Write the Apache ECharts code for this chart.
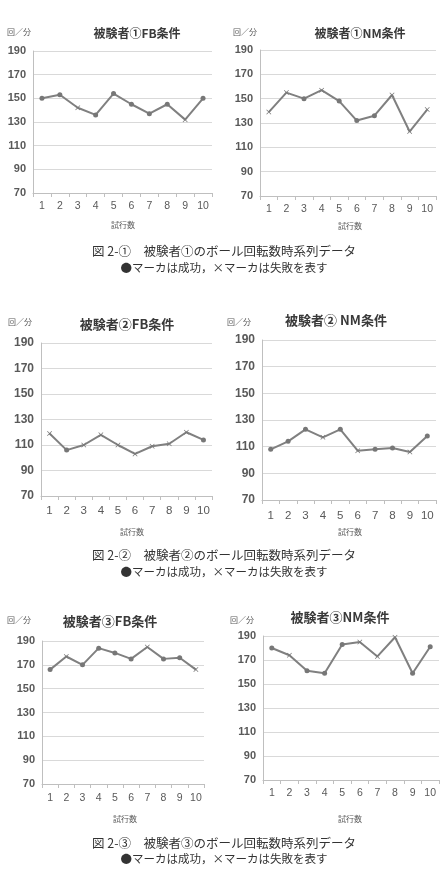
<!DOCTYPE html>
<html lang="ja">
<head>
<meta charset="UTF-8">
<title>被験者のボール回転数時系列データ</title>
<script src="https://cdn.jsdelivr.net/npm/echarts@6/dist/echarts.min.js"></script>
<style>
  html, body { margin: 0; padding: 0; background: #fff; }
  #main { width: 446px; height: 876px; }
</style>
</head>
<body>
<div id="main"></div>
<script>
// 試行数 (x axis categories)
var trials = ['1', '2', '3', '4', '5', '6', '7', '8', '9', '10'];
var yTicks = [70, 90, 110, 130, 150, 170, 190];

// 回転数 (回／分); 'o' = 成功, 'x' = 失敗
var s1FB = [150, 153, 142, 136, 154, 145, 137, 145, 132, 150];
var s1FBMark = ['o', 'o', 'x', 'o', 'o', 'o', 'o', 'o', 'x', 'o'];
var s1NM = [139, 155, 150, 157, 148, 132, 136, 153, 123, 141];
var s1NMMark = ['x', 'x', 'o', 'x', 'o', 'o', 'o', 'x', 'x', 'x'];

var s2FB = [119, 106, 110, 118, 110, 103, 109, 111, 120, 114];
var s2FBMark = ['x', 'o', 'x', 'x', 'x', 'x', 'x', 'x', 'x', 'o'];
var s2NM = [108, 114, 123, 117, 123, 107, 108, 109, 106, 118];
var s2NMMark = ['o', 'o', 'o', 'x', 'o', 'x', 'o', 'o', 'x', 'o'];

var s3FB = [166, 177, 170, 184, 180, 175, 185, 175, 176, 166];
var s3FBMark = ['o', 'x', 'o', 'o', 'o', 'o', 'x', 'o', 'o', 'x'];
var s3NM = [180, 174, 161, 159, 183, 185, 173, 189, 159, 181];
var s3NMMark = ['o', 'x', 'o', 'o', 'o', 'x', 'x', 'x', 'o', 'o'];

var chartTitles = ['被験者①FB条件', '被験者①NM条件', '被験者②FB条件', '被験者② NM条件', '被験者③FB条件', '被験者③NM条件'];
var captionLine1 = ['図 2-①　被験者①のボール回転数時系列データ', '図 2-②　被験者②のボール回転数時系列データ', '図 2-③　被験者③のボール回転数時系列データ'];
var captionLine2 = '●マーカは成功，×マーカは失敗を表す';

var CROSS = 'path://M0,1L1,0L5,4L9,0L10,1L6,5L10,9L9,10L5,6L1,10L0,9L4,5Z';

// panel layout: grid box + text anchors
var panels = [
    { vals: s1FB, marks: s1FBMark, grid: {left: 33, right: 234, top: 51, bottom: 683}, tx: 137, ty: 33, ux: 7, uy: 32, nx: 123, ny: 225, fs: 11, xm: 8, ts: 12 },
    { vals: s1NM, marks: s1NMMark, grid: {left: 260, right: 10, top: 50, bottom: 680}, tx: 360, ty: 33, ux: 233, uy: 32, nx: 350, ny: 226, fs: 11, xm: 8, ts: 12 },
    { vals: s2FB, marks: s2FBMark, grid: {left: 41, right: 234, top: 343, bottom: 380}, tx: 127, ty: 324, ux: 8, uy: 322, nx: 132, ny: 532, fs: 12, xm: 9, ts: 13 },
    { vals: s2NM, marks: s2NMMark, grid: {left: 262, right: 10, top: 340, bottom: 376}, tx: 336, ty: 320, ux: 227, uy: 322, nx: 350, ny: 532, fs: 12, xm: 10, ts: 13 },
    { vals: s3FB, marks: s3FBMark, grid: {left: 42, right: 242, top: 641, bottom: 92}, tx: 110, ty: 621, ux: 7, uy: 620, nx: 125, ny: 819, fs: 11, xm: 9, ts: 13 },
    { vals: s3NM, marks: s3NMMark, grid: {left: 263, right: 7, top: 636, bottom: 96}, tx: 340, ty: 617, ux: 230, uy: 620, nx: 350, ny: 819, fs: 11, xm: 8, ts: 13 }
];
var captionY = [[251, 268], [555, 572], [843, 859]];

var grids = [], xAxes = [], yAxes = [], series = [], texts = [];

panels.forEach(function (p, i) {
    grids.push(p.grid);
    xAxes.push({
        type: 'category',
        gridIndex: i,
        data: trials,
        boundaryGap: true,
        axisLine: { show: true, lineStyle: { color: '#bfbfbf', width: 1 } },
        axisTick: { show: true, length: 4, lineStyle: { color: '#bfbfbf' } },
        axisLabel: { color: '#595959', fontSize: p.fs - 0.5, margin: p.xm, fontFamily: 'Liberation Sans, Arial, sans-serif' }
    });
    yAxes.push({
        type: 'value',
        gridIndex: i,
        min: yTicks[0],
        max: yTicks[yTicks.length - 1],
        interval: 20,
        axisLine: { show: true, lineStyle: { color: '#bfbfbf', width: 1 } },
        axisTick: { show: false },
        splitLine: { lineStyle: { color: '#d9d9d9', width: 1 } },
        axisLabel: { color: '#595959', fontSize: p.fs, fontWeight: 'bold', margin: 7, fontFamily: 'Liberation Sans, Arial, sans-serif' }
    });
    series.push({
        type: 'line',
        xAxisIndex: i,
        yAxisIndex: i,
        data: p.vals.map(function (v, k) {
            return { value: v, symbol: p.marks[k] === 'x' ? CROSS : 'circle' };
        }),
        symbolSize: 5,
        showSymbol: true,
        animation: false,
        lineStyle: { color: '#808080', width: 2 },
        itemStyle: { color: '#777777' }
    });
    texts.push({
        type: 'text', x: p.tx, y: p.ty,
        style: { text: chartTitles[i], fill: '#3a3a3a', font: 'bold ' + p.ts + 'px "Noto Sans CJK JP", sans-serif', align: 'center', verticalAlign: 'middle' }
    });
    texts.push({
        type: 'text', x: p.ux, y: p.uy,
        style: { text: '回／分', fill: '#595959', font: '8px "Noto Sans CJK JP", sans-serif', align: 'left', verticalAlign: 'middle' }
    });
    texts.push({
        type: 'text', x: p.nx, y: p.ny,
        style: { text: '試行数', fill: '#595959', font: '8px "Noto Sans CJK JP", sans-serif', align: 'center', verticalAlign: 'middle' }
    });
});

captionY.forEach(function (cy, i) {
    texts.push({
        type: 'text', x: 224, y: cy[0],
        style: { text: captionLine1[i], fill: '#333333', font: '12.5px "Noto Sans CJK JP", serif', align: 'center', verticalAlign: 'middle' }
    });
    texts.push({
        type: 'text', x: 224, y: cy[1],
        style: { text: captionLine2, fill: '#333333', font: '11.5px "Noto Sans CJK JP", serif', align: 'center', verticalAlign: 'middle' }
    });
});

var myChart = echarts.init(document.getElementById('main'));
myChart.setOption({
    backgroundColor: '#ffffff',
    animation: false,
    grid: grids,
    xAxis: xAxes,
    yAxis: yAxes,
    series: series,
    graphic: texts
});
</script>
</body>
</html>
